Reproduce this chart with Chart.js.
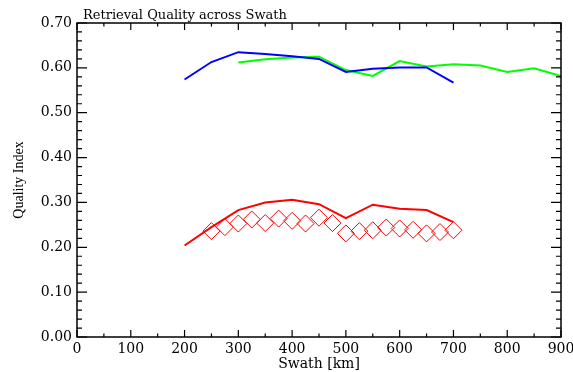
<!DOCTYPE html>
<html>
<head>
<meta charset="utf-8">
<script src="https://cdn.jsdelivr.net/npm/chart.js@4"></script>
<style>
  html, body { margin: 0; padding: 0; background: #fff; }
  canvas { display: block; }
</style>
</head>
<body>
<canvas id="chart" width="573" height="372"></canvas>
<script>
// values
const swathBlue = [200, 250, 300, 350, 400, 450, 500, 550, 600, 650, 700];
const blueQuality = [0.574, 0.613, 0.635, 0.631, 0.626, 0.620, 0.591, 0.598, 0.601, 0.601, 0.567];

const swathGreen = [300, 350, 400, 450, 500, 550, 600, 650, 700, 750, 800, 850, 900];
const greenQuality = [0.612, 0.619, 0.623, 0.625, 0.595, 0.582, 0.615, 0.603, 0.608, 0.605, 0.591, 0.599, 0.582];

const swathRed = [200, 250, 300, 350, 400, 450, 500, 550, 600, 650, 700];
const redQuality = [0.204, 0.245, 0.283, 0.300, 0.306, 0.296, 0.265, 0.295, 0.286, 0.283, 0.256];

const swathDiamond = [250, 275, 300, 325, 350, 375, 400, 425, 450, 475, 500, 525, 550, 575, 600, 625, 650, 675, 700];
const diamondQuality = [0.236, 0.245, 0.253, 0.262, 0.254, 0.264, 0.259, 0.253, 0.266, 0.254,
                        0.231, 0.236, 0.238, 0.244, 0.242, 0.239, 0.231, 0.234, 0.238];

const xTicks = [0, 100, 200, 300, 400, 500, 600, 700, 800, 900];
const yTicks = [0, 0.1, 0.2, 0.3, 0.4, 0.5, 0.6, 0.7];

const plotTitle = "Retrieval Quality across Swath";

const toPoints = (xs, ys) => xs.map((x, i) => ({ x: x, y: ys[i] }));

// IDL style box with inward ticks on all four sides
const boxTicks = {
  id: "boxTicks",
  afterDatasetsDraw(chart) {
    const { ctx, chartArea: a, scales: { x, y } } = chart;
    ctx.save();
    ctx.strokeStyle = "#000";
    ctx.lineWidth = 1.5;
    ctx.strokeRect(a.left, a.top, a.right - a.left, a.bottom - a.top);
    ctx.lineWidth = 1.2;
    ctx.beginPath();
    for (let v = 0; v <= 900; v += 50) {
      const px = x.getPixelForValue(v);
      const len = v % 100 === 0 ? 7 : 3.5;
      ctx.moveTo(px, a.bottom); ctx.lineTo(px, a.bottom - len);
      ctx.moveTo(px, a.top); ctx.lineTo(px, a.top + len);
    }
    for (let i = 0; i <= 35; i++) {
      const py = y.getPixelForValue(i * 0.02);
      const len = i % 5 === 0 ? 10 : 5;
      ctx.moveTo(a.left, py); ctx.lineTo(a.left + len, py);
      ctx.moveTo(a.right, py); ctx.lineTo(a.right - len, py);
    }
    ctx.stroke();
    ctx.fillStyle = "#000";
    ctx.font = "13px 'DejaVu Serif'";
    ctx.textBaseline = "alphabetic";
    ctx.fillText(plotTitle, a.left + 6, 19);
    ctx.restore();
  }
};

new Chart(document.getElementById("chart"), {
  type: "line",
  data: {
    datasets: [
      {
        data: toPoints(swathBlue, blueQuality),
        borderColor: "#0000ff",
        borderWidth: 2,
        pointRadius: 0,
      },
      {
        data: toPoints(swathGreen, greenQuality),
        borderColor: "#00ff00",
        borderWidth: 2,
        pointRadius: 0,
      },
      {
        data: toPoints(swathRed, redQuality),
        borderColor: "#ff0000",
        borderWidth: 2,
        pointRadius: 0,
      },
      {
        data: toPoints(swathDiamond, diamondQuality),
        showLine: false,
        borderColor: "#ff0000",
        backgroundColor: "rgba(0,0,0,0)",
        pointBorderColor: "#ff0000",
        pointBackgroundColor: "rgba(0,0,0,0)",
        pointStyle: "rectRot",
        pointRadius: 8.5,
        pointBorderWidth: 1,
      },
    ],
  },
  options: {
    responsive: false,
    animation: false,
    events: [],
    layout: { padding: { top: 23, left: 0, right: 0, bottom: 0 } },
    plugins: { legend: { display: false }, tooltip: { enabled: false } },
    scales: {
      x: {
        type: "linear",
        min: 0,
        max: 900,
        afterBuildTicks: (s) => { s.ticks = xTicks.map((v) => ({ value: v })); },
        afterFit: (s) => { s.height = 35; s.paddingRight = 12; },
        grid: { display: false, drawTicks: false },
        border: { display: false },
        ticks: {
          color: "#000",
          padding: 5,
          maxRotation: 0,
          font: { family: "DejaVu Serif", size: 14, lineHeight: 1 },
        },
        title: {
          display: true,
          text: "Swath [km]",
          color: "#000",
          padding: { top: 1, bottom: 1 },
          font: { family: "DejaVu Serif", size: 14, lineHeight: 1 },
        },
      },
      y: {
        type: "linear",
        min: 0,
        max: 0.7,
        afterBuildTicks: (s) => { s.ticks = yTicks.map((v) => ({ value: v })); },
        afterFit: (s) => { s.width = 77; },
        grid: { display: false, drawTicks: false },
        border: { display: false },
        ticks: {
          color: "#000",
          padding: 5,
          callback: (v) => v.toFixed(2),
          font: { family: "DejaVu Serif", size: 14, lineHeight: 1 },
        },
        title: {
          display: true,
          text: "Quality Index",
          color: "#000",
          padding: { top: 12, bottom: 0 },
          font: { family: "Liberation Serif", size: 14, lineHeight: 1 },
        },
      },
    },
  },
  plugins: [boxTicks],
});
</script>
</body>
</html>
